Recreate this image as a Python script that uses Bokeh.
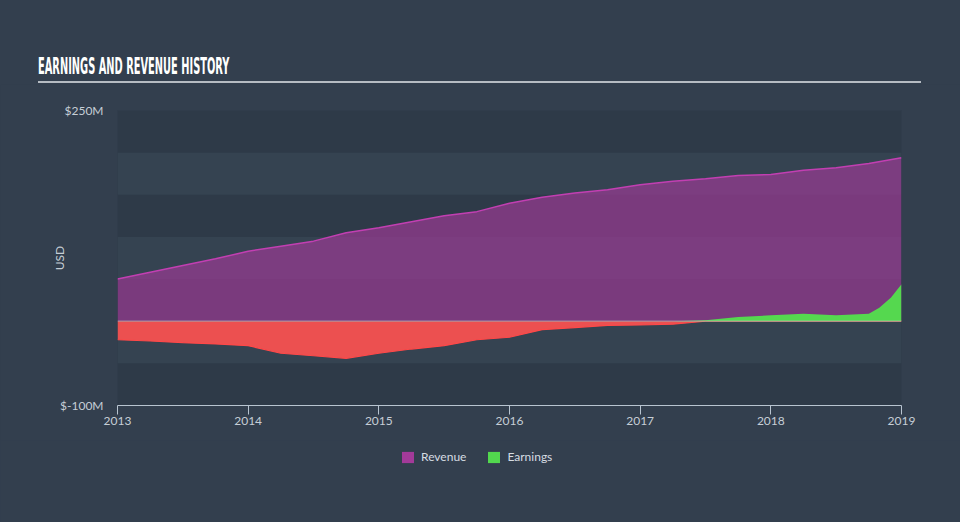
import numpy as np
from bokeh.plotting import figure
from bokeh.models import FixedTicker, Legend, LegendItem, Span, Range1d, Div
from bokeh.layouts import column
from bokeh.embed import file_html
from bokeh.resources import INLINE

# ---- data (USD millions) ----
rev_x = [2013.0, 2013.25, 2013.5, 2013.75, 2014.0, 2014.25, 2014.5, 2014.75,
         2015.0, 2015.25, 2015.5, 2015.75, 2016.0, 2016.25, 2016.5, 2016.75,
         2017.0, 2017.25, 2017.5, 2017.75, 2018.0, 2018.25, 2018.5, 2018.75, 2019.0]
revenue = [50, 58, 66, 74, 83, 89, 95, 105,
           111, 118, 125, 130, 140, 147, 152, 156,
           162, 166, 169, 173, 174, 179, 182, 187, 194]

earn_x = [2013.0, 2013.25, 2013.5, 2013.75, 2014.0, 2014.25, 2014.5, 2014.75,
          2015.0, 2015.25, 2015.5, 2015.75, 2016.0, 2016.25, 2016.5, 2016.75,
          2017.0, 2017.25, 2017.5, 2017.75, 2018.0, 2018.25, 2018.5, 2018.75,
          2018.83, 2018.92, 2019.0]
earnings = [-22, -23.5, -25.5, -27, -29, -38, -41, -44,
            -38, -33, -29, -22, -19, -10, -7.5, -5,
            -4.5, -3.5, 1, 5, 7, 9, 7, 9,
            16, 28, 44]

series_names = ["Revenue", "Earnings"]
year_ticks = [2013, 2014, 2015, 2016, 2017, 2018, 2019]
y_ticks = [-100, 250]
y_tick_labels = {250: "$250M", -100: "$-100M"}
band_ticks = [-100, -50, 0, 50, 100, 150, 200, 250]
title_text = "EARNINGS AND REVENUE HISTORY"

BG = "#333f4e"
FONT = "Lato"
REV_COLOR = "#a33a99"
EARN_COLOR = "#52d84e"

earn = np.array(earnings, dtype=float)
earn_neg = np.minimum(earn, 0)
earn_pos = np.maximum(earn, 0)

# ---------------- title (HTML) ----------------
title_html = (
    '<div style="position:relative;width:960px;height:84px;">'
    '<div style="position:absolute;left:38px;top:52px;font-family:\'DejaVu Sans Condensed\';'
    'font-weight:bold;font-size:23px;color:#ffffff;white-space:nowrap;'
    'transform:scaleX(0.476);transform-origin:left top;line-height:28px;">'
    + title_text +
    '</div>'
    '<div style="position:absolute;left:38px;top:81px;width:883px;height:2px;'
    'background:#b6bcc3;"></div></div>'
)
div = Div(text=title_html, width=960, height=84, margin=0,
          styles={"background-color": BG})

# ---------------- main chart ----------------
p = figure(width=960, height=356, output_backend="svg", toolbar_location=None,
           x_range=Range1d(2013, 2019), y_range=Range1d(-100, 250),
           min_border_left=117, min_border_right=59, min_border_top=26,
           min_border_bottom=35, margin=0, styles={"background-color": BG})
p.frame_align = False
p.border_fill_color = BG
p.background_fill_color = "#2e3a48"
p.outline_line_color = None

p.xgrid.visible = False
p.ygrid.ticker = FixedTicker(ticks=band_ticks)
p.ygrid.grid_line_color = None
p.ygrid.band_fill_color = "#354351"
p.ygrid.band_fill_alpha = 1.0

# revenue
p.varea(x=rev_x, y1=0, y2=revenue, fill_color=REV_COLOR, fill_alpha=0.65)
p.line(rev_x, revenue, line_color="#c23fb2", line_width=1.5)
# earnings
p.varea(x=earn_x, y1=earn_neg, y2=0, fill_color="#ec5050", fill_alpha=1.0)
p.line(earn_x, earn_neg, line_color="#ff4848", line_width=1.2)
p.varea(x=earn_x, y1=0, y2=earn_pos, fill_color="#55d84f", fill_alpha=1.0)

p.add_layout(Span(location=0, dimension="width", line_color="#c4cad0",
                  line_width=1.2, line_alpha=0.55))

# axes
p.xaxis.ticker = FixedTicker(ticks=year_ticks)
p.xaxis.axis_line_color = "#b8c4d0"
p.xaxis.major_tick_line_color = "#b8c4d0"
p.xaxis.major_tick_out = 9
p.xaxis.major_tick_in = 0
p.xaxis.minor_tick_line_color = None
p.xaxis.major_label_text_color = "#c6ced6"
p.xaxis.major_label_text_font = FONT
p.xaxis.major_label_text_font_size = "12px"
p.xaxis.major_label_standoff = 2

p.yaxis.ticker = FixedTicker(ticks=y_ticks)
p.yaxis.major_label_overrides = y_tick_labels
p.yaxis.axis_line_color = None
p.yaxis.major_tick_line_color = None
p.yaxis.minor_tick_line_color = None
p.yaxis.major_tick_out = 0
p.yaxis.major_label_standoff = 14
p.yaxis.major_label_text_color = "#c6ced6"
p.yaxis.major_label_text_font = FONT
p.yaxis.major_label_text_font_size = "12px"
p.yaxis.axis_label = "USD"
p.yaxis.axis_label_text_color = "#c6ced6"
p.yaxis.axis_label_text_font = FONT
p.yaxis.axis_label_text_font_size = "12px"
p.yaxis.axis_label_text_font_style = "normal"
p.yaxis.axis_label_standoff = -10

# ---------------- legend strip ----------------
# The series are drawn again here only so the legend can show their swatches;
# this strip's ranges keep them out of view.
lg = figure(width=960, height=82, output_backend="svg", toolbar_location=None,
            x_range=Range1d(0, 1), y_range=Range1d(0, 1),
            min_border_left=0, min_border_right=0, min_border_top=0,
            min_border_bottom=0, margin=0, styles={"background-color": BG})
lg.frame_align = False
lg.axis.visible = False
lg.grid.visible = False
lg.outline_line_color = None
lg.background_fill_color = BG
lg.border_fill_color = BG
r_leg = lg.varea(x=rev_x, y1=0, y2=revenue, fill_color=REV_COLOR, fill_alpha=1.0)
e_leg = lg.varea(x=earn_x, y1=0, y2=earn_pos, fill_color=EARN_COLOR, fill_alpha=1.0)
legend = Legend(items=[LegendItem(label=series_names[0], renderers=[r_leg]),
                       LegendItem(label=series_names[1], renderers=[e_leg])],
                orientation="horizontal", location=(395, 53),
                label_text_color="#d6dce2", label_text_font=FONT,
                label_text_font_size="12px", glyph_width=15, glyph_height=14,
                spacing=20, label_standoff=6, margin=0, padding=5,
                background_fill_alpha=0, border_line_alpha=0)
lg.add_layout(legend)

layout = column(div, p, lg, spacing=0, margin=0, styles={"background-color": BG})

html = file_html(layout, INLINE)
html = html.replace("<body>", '<body style="background-color:%s;">' % BG, 1)
open("out.html", "w").write(html)
